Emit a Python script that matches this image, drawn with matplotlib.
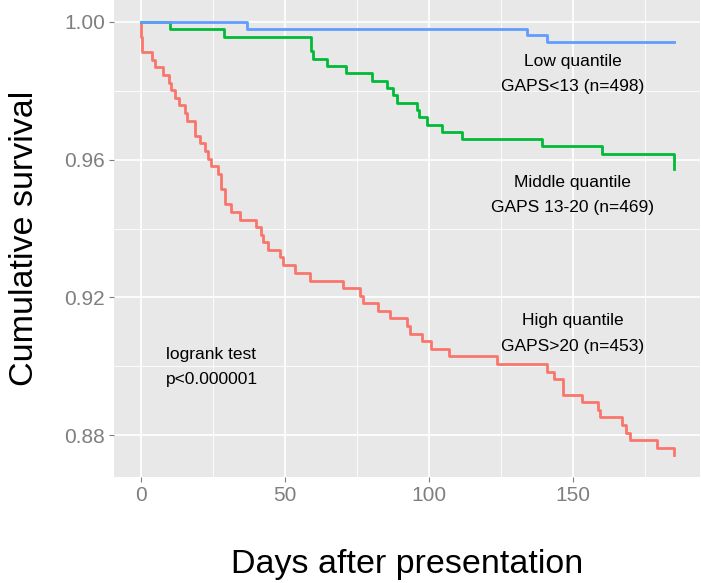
import numpy as np
import matplotlib
matplotlib.use("Agg")
import matplotlib.pyplot as plt

plt.rcParams['font.family'] = ['Liberation Sans', 'DejaVu Sans']

# Kaplan-Meier curves (days, cumulative survival)
high_days = [0, 0.0, 0.5, 3.9, 4.9, 7.7, 9.7, 10.6, 11.8, 13.3, 15.3, 16.1, 18.8,
             20.5, 22.2, 23.4, 24.5, 26.8, 28.0, 29.2, 31.5, 34.4, 40.2, 41.9,
             42.5, 44.2, 48.3, 49.4, 53.5, 58.7, 70.3, 76.0, 77.2, 82.4, 86.5,
             92.3, 93.4, 97.5, 100.9, 107.0, 123.5, 141.1, 143.5, 146.6, 153.0,
             158.8, 159.4, 166.9, 168.6, 169.8, 179.1, 185.1]
high_surv = [1.0, 0.9956, 0.9912, 0.9890, 0.9868, 0.9845, 0.9823, 0.9801, 0.9779,
             0.9757, 0.9735, 0.9713, 0.9669, 0.9647, 0.9625, 0.9603, 0.9581,
             0.9558, 0.9514, 0.9470, 0.9448, 0.9426, 0.9404, 0.9382, 0.9360,
             0.9338, 0.9316, 0.9294, 0.9272, 0.9249, 0.9227, 0.9205, 0.9183,
             0.9161, 0.9139, 0.9117, 0.9095, 0.9073, 0.9051, 0.9029, 0.9007,
             0.8985, 0.8962, 0.8918, 0.8896, 0.8874, 0.8852, 0.8830, 0.8808,
             0.8786, 0.8764, 0.8742]

mid_days = [0, 10.1, 28.8, 59.0, 59.7, 64.6, 71.2, 80.2, 85.4, 87.5, 88.9, 95.8,
            96.5, 99.3, 104.5, 111.5, 139.2, 160.0, 185.0]
mid_surv = [1.0, 0.9979, 0.9957, 0.9915, 0.9893, 0.9872, 0.9851, 0.9829, 0.9808,
            0.9787, 0.9765, 0.9744, 0.9723, 0.9701, 0.9680, 0.9659, 0.9638,
            0.9616, 0.9574]

low_days = [0, 36.8, 134.0, 141.0, 185.0]
low_surv = [1.0, 0.9980, 0.9960, 0.9940, 0.9940]

fig = plt.figure(figsize=(7.01, 5.83), dpi=100)
ax = fig.add_axes([114 / 701, 1 - 477 / 583, 586.4 / 701, 477 / 583])
ax.set_facecolor('#E8E8E8')

ax.step(high_days, high_surv, where='post', color='#F8766D', lw=2.0)
ax.step(mid_days, mid_surv, where='post', color='#00BA38', lw=2.0)
ax.step(low_days, low_surv, where='post', color='#619CFF', lw=2.0)

ax.set_xlim(-9.25, 194.25)
ax.set_ylim(0.8679, 1.0063)
ax.set_xticks([0, 50, 100, 150])
ax.set_yticks([0.88, 0.92, 0.96, 1.00])
ax.set_yticklabels(['0.88', '0.92', '0.96', '1.00'])
ax.set_xticks([25, 75, 125, 175], minor=True)
ax.set_yticks([0.90, 0.94, 0.98], minor=True)
ax.grid(True, which='major', color='white', lw=1.2)
ax.grid(True, which='minor', color='white', lw=0.6)
ax.set_axisbelow(True)
for s in ax.spines.values():
    s.set_visible(False)
ax.tick_params(which='major', length=3.5, width=0.8, color='#7F7F7F',
               labelcolor='#7F7F7F', labelsize=15, pad=3)
ax.tick_params(which='minor', length=0)

ax.set_xlabel('Days after presentation', fontsize=24.5, va='center')
ax.set_ylabel('Cumulative survival', fontsize=24.5, va='center')
ax.xaxis.set_label_coords(0.5, -0.184)
ax.yaxis.set_label_coords(-0.152, 0.5)

txt = dict(ha='center', va='center', fontsize=12.5, color='black')
ax.text(150, 0.9884, 'Low quantile', **txt)
ax.text(150, 0.9812, 'GAPS<13 (n=498)', **txt)
ax.text(150, 0.9533, 'Middle quantile', **txt)
ax.text(150, 0.9461, 'GAPS 13-20 (n=469)', **txt)
ax.text(150, 0.9133, 'High quantile', **txt)
ax.text(150, 0.9058, 'GAPS>20 (n=453)', **txt)
ax.text(8.7, 0.9035, 'logrank test', ha='left', va='center', fontsize=12.5)
ax.text(8.7, 0.8962, 'p<0.000001', ha='left', va='center', fontsize=12.5)

fig.savefig('out.png', dpi=100)
